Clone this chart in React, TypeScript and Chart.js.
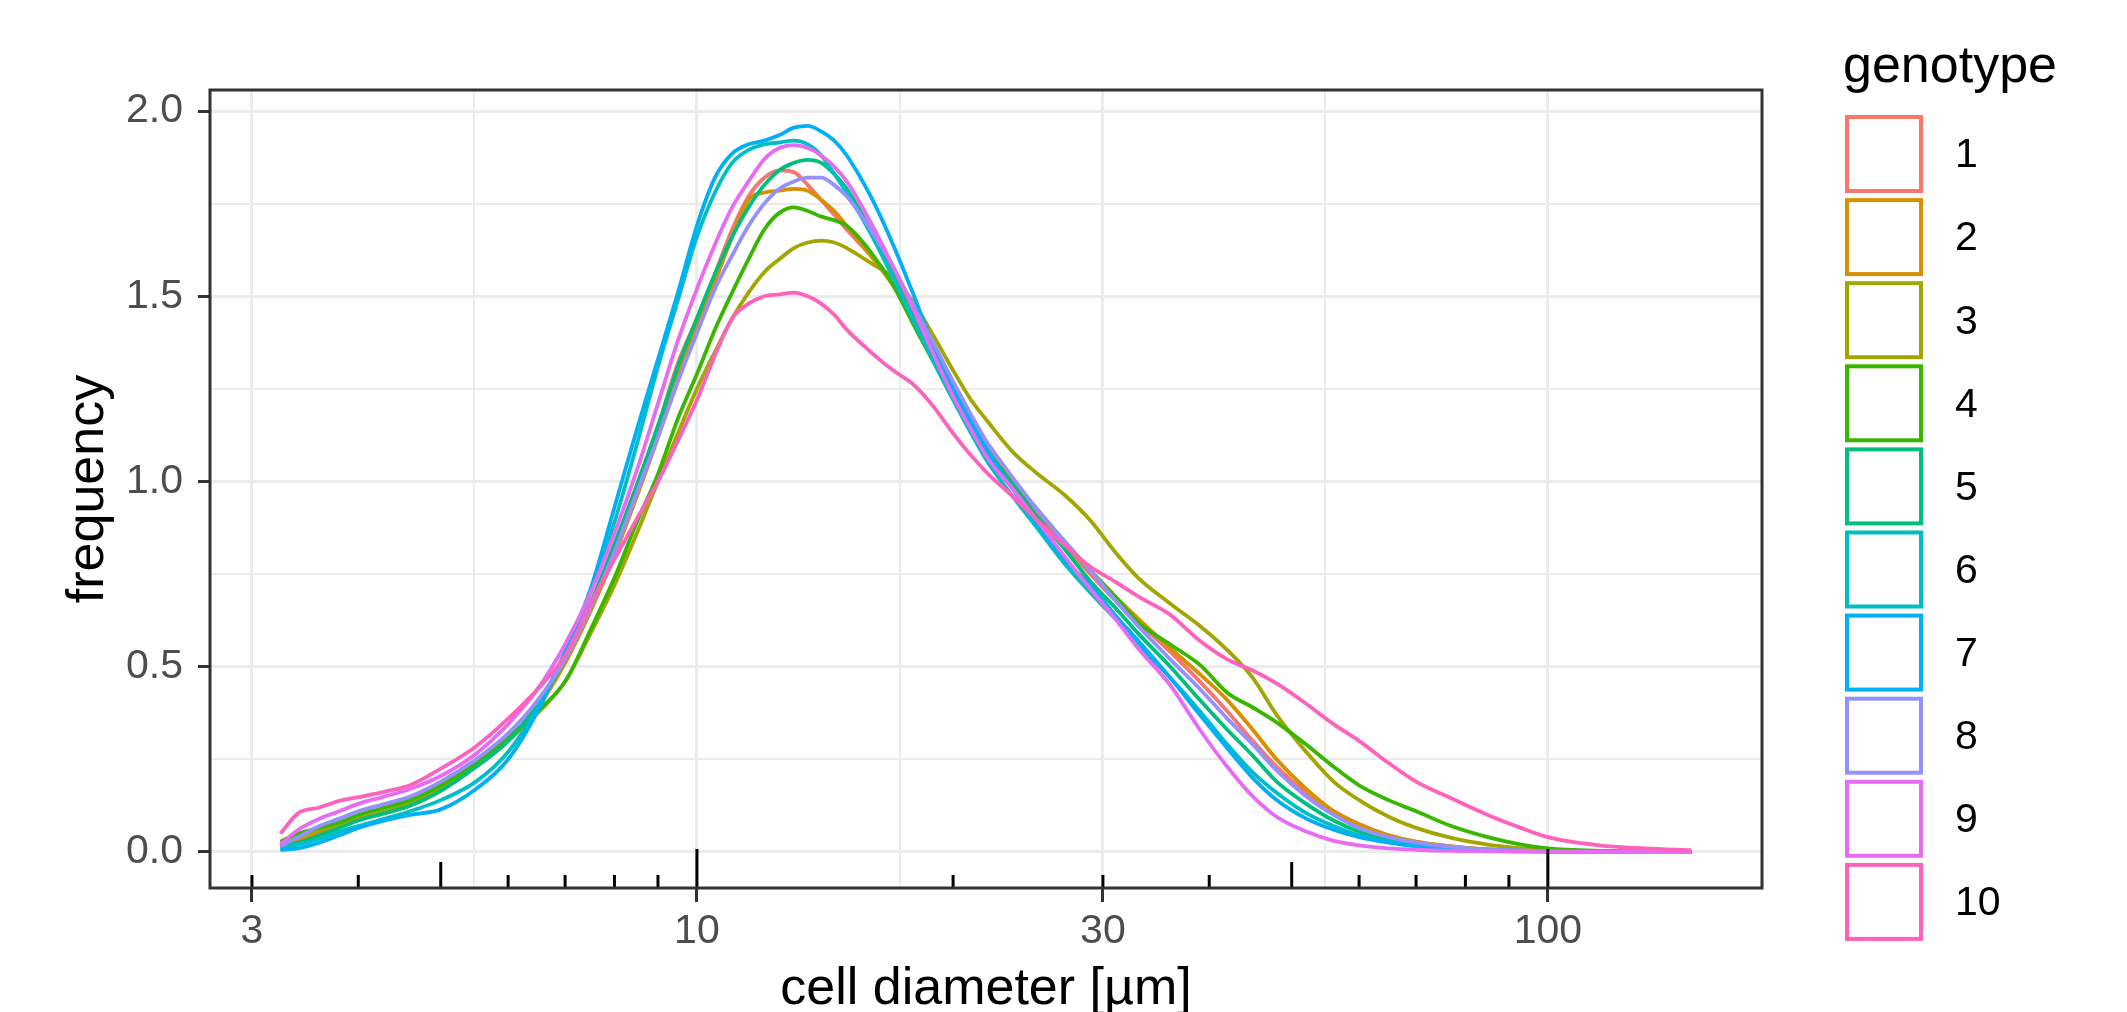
import React, { useEffect, useRef } from 'react';
import { Chart, registerables } from 'chart.js';

Chart.register(...registerables);

const FONT = '"Liberation Sans", Arial, Helvetica, sans-serif';

// cell diameter sample positions [µm]
const diameter = [3.24, 3.4, 3.6, 3.8, 4.0, 4.3, 4.6, 5.0, 5.5, 6.0, 6.5, 7.0, 7.5, 8.0, 8.5, 9.0, 9.5, 10, 10.5, 11, 11.5, 12, 12.5, 13, 13.5, 14, 14.5, 15, 16, 17, 18, 19, 20, 21, 22, 23.5, 25, 27, 29, 31, 33, 36, 39, 42, 45, 48, 52, 56, 60, 65, 70, 77, 85, 93, 100, 115, 130, 147.4];

// density (frequency) per genotype
const genotype1 = [0.018, 0.03, 0.05, 0.07, 0.09, 0.11, 0.13, 0.17, 0.235, 0.30, 0.39, 0.52, 0.67, 0.83, 0.99, 1.15, 1.32, 1.44, 1.56, 1.68, 1.77, 1.82, 1.84, 1.835, 1.80, 1.76, 1.72, 1.68, 1.61, 1.53, 1.43, 1.33, 1.24, 1.16, 1.09, 1.00, 0.92, 0.83, 0.75, 0.68, 0.62, 0.54, 0.46, 0.38, 0.30, 0.23, 0.16, 0.11, 0.075, 0.045, 0.028, 0.015, 0.007, 0.004, 0.002, 0.001, 0, 0];
const genotype2 = [0.015, 0.03, 0.05, 0.07, 0.09, 0.105, 0.125, 0.165, 0.23, 0.30, 0.39, 0.51, 0.65, 0.80, 0.96, 1.12, 1.29, 1.42, 1.54, 1.66, 1.76, 1.78, 1.785, 1.79, 1.785, 1.76, 1.73, 1.69, 1.61, 1.53, 1.44, 1.34, 1.25, 1.17, 1.10, 1.01, 0.93, 0.84, 0.76, 0.69, 0.63, 0.55, 0.48, 0.41, 0.33, 0.25, 0.17, 0.11, 0.075, 0.045, 0.028, 0.015, 0.007, 0.004, 0.002, 0.001, 0, 0];
const genotype3 = [0.02, 0.04, 0.06, 0.075, 0.09, 0.11, 0.13, 0.17, 0.23, 0.30, 0.375, 0.46, 0.59, 0.72, 0.86, 1.00, 1.13, 1.25, 1.35, 1.44, 1.51, 1.565, 1.60, 1.63, 1.645, 1.65, 1.645, 1.63, 1.59, 1.55, 1.48, 1.39, 1.30, 1.22, 1.16, 1.08, 1.025, 0.965, 0.895, 0.81, 0.74, 0.67, 0.61, 0.545, 0.47, 0.37, 0.27, 0.19, 0.14, 0.095, 0.065, 0.038, 0.02, 0.01, 0.005, 0.002, 0.001, 0];
const genotype4 = [0.028, 0.05, 0.065, 0.08, 0.10, 0.12, 0.14, 0.18, 0.24, 0.31, 0.38, 0.46, 0.60, 0.74, 0.89, 1.02, 1.17, 1.29, 1.41, 1.51, 1.60, 1.68, 1.725, 1.74, 1.73, 1.715, 1.705, 1.69, 1.62, 1.53, 1.42, 1.32, 1.23, 1.15, 1.08, 1.00, 0.93, 0.84, 0.76, 0.69, 0.62, 0.56, 0.505, 0.43, 0.39, 0.35, 0.29, 0.23, 0.18, 0.14, 0.11, 0.07, 0.04, 0.02, 0.01, 0.003, 0.001, 0];
const genotype5 = [0.015, 0.025, 0.045, 0.065, 0.085, 0.105, 0.125, 0.165, 0.23, 0.30, 0.40, 0.52, 0.67, 0.83, 0.99, 1.15, 1.31, 1.44, 1.56, 1.66, 1.74, 1.80, 1.84, 1.86, 1.868, 1.86, 1.83, 1.79, 1.68, 1.57, 1.45, 1.34, 1.24, 1.15, 1.07, 0.99, 0.91, 0.82, 0.73, 0.66, 0.59, 0.50, 0.41, 0.33, 0.26, 0.19, 0.13, 0.085, 0.055, 0.033, 0.02, 0.011, 0.006, 0.003, 0.002, 0.001, 0, 0];
const genotype6 = [0.008, 0.02, 0.035, 0.055, 0.07, 0.09, 0.11, 0.14, 0.19, 0.27, 0.39, 0.54, 0.70, 0.89, 1.10, 1.31, 1.49, 1.66, 1.78, 1.86, 1.895, 1.91, 1.915, 1.92, 1.91, 1.88, 1.83, 1.78, 1.67, 1.55, 1.43, 1.32, 1.22, 1.13, 1.05, 0.96, 0.88, 0.78, 0.70, 0.63, 0.56, 0.47, 0.38, 0.29, 0.215, 0.16, 0.105, 0.07, 0.045, 0.028, 0.017, 0.009, 0.005, 0.003, 0.002, 0.001, 0, 0];
const genotype7 = [0.005, 0.01, 0.025, 0.045, 0.065, 0.085, 0.10, 0.115, 0.17, 0.25, 0.38, 0.54, 0.71, 0.93, 1.14, 1.33, 1.51, 1.69, 1.82, 1.885, 1.91, 1.92, 1.935, 1.955, 1.96, 1.945, 1.92, 1.88, 1.77, 1.64, 1.50, 1.36, 1.25, 1.16, 1.08, 0.98, 0.89, 0.79, 0.72, 0.64, 0.57, 0.47, 0.37, 0.28, 0.20, 0.14, 0.09, 0.06, 0.04, 0.025, 0.015, 0.008, 0.004, 0.002, 0.001, 0, 0, 0];
const genotype8 = [0.015, 0.04, 0.07, 0.09, 0.11, 0.13, 0.15, 0.19, 0.25, 0.32, 0.41, 0.52, 0.66, 0.81, 0.97, 1.12, 1.27, 1.40, 1.52, 1.61, 1.69, 1.75, 1.79, 1.81, 1.82, 1.82, 1.80, 1.77, 1.68, 1.58, 1.47, 1.37, 1.27, 1.18, 1.10, 1.01, 0.93, 0.84, 0.76, 0.68, 0.61, 0.52, 0.44, 0.36, 0.29, 0.22, 0.15, 0.10, 0.065, 0.04, 0.025, 0.014, 0.007, 0.004, 0.002, 0.001, 0, 0];
const genotype9 = [0.02, 0.06, 0.09, 0.11, 0.13, 0.15, 0.17, 0.205, 0.265, 0.345, 0.44, 0.56, 0.70, 0.86, 1.03, 1.21, 1.38, 1.52, 1.64, 1.74, 1.81, 1.87, 1.90, 1.908, 1.90, 1.88, 1.85, 1.81, 1.70, 1.58, 1.46, 1.34, 1.23, 1.14, 1.06, 0.98, 0.90, 0.80, 0.71, 0.63, 0.55, 0.45, 0.33, 0.23, 0.15, 0.095, 0.055, 0.03, 0.018, 0.01, 0.006, 0.003, 0.002, 0.001, 0.001, 0, 0, 0];
const genotype10 = [0.05, 0.105, 0.12, 0.138, 0.148, 0.163, 0.18, 0.225, 0.285, 0.36, 0.44, 0.53, 0.67, 0.79, 0.90, 1.00, 1.11, 1.22, 1.34, 1.44, 1.48, 1.50, 1.505, 1.51, 1.50, 1.48, 1.45, 1.41, 1.35, 1.30, 1.26, 1.20, 1.13, 1.07, 1.02, 0.96, 0.90, 0.83, 0.77, 0.73, 0.69, 0.64, 0.57, 0.52, 0.49, 0.455, 0.40, 0.345, 0.30, 0.24, 0.19, 0.145, 0.10, 0.065, 0.04, 0.018, 0.01, 0.005];

const genotypeLabels = ['1', '2', '3', '4', '5', '6', '7', '8', '9', '10'];
const genotypeColors = ['#F8766D', '#D89000', '#A3A500', '#39B600', '#00BF7D', '#00BFC4', '#00B0F6', '#9590FF', '#E76BF3', '#FF62BC'];
const seriesValues = [genotype1, genotype2, genotype3, genotype4, genotype5, genotype6, genotype7, genotype8, genotype9, genotype10];

// axes
const xBreaks = [3, 10, 30, 100];
const xBreakLabels = ['3', '10', '30', '100'];
const xMinorBreaks = [5.4772, 17.3205, 54.7723];
const yBreaks = [0, 0.5, 1, 1.5, 2];
const yBreakLabels = ['0.0', '0.5', '1.0', '1.5', '2.0'];
const yMinorBreaks = [0.25, 0.75, 1.25, 1.75];
const logTickValues = [3, 4, 5, 6, 7, 8, 9, 10, 20, 30, 40, 50, 60, 70, 80, 90, 100];
const logTickLong = [10, 100];
const logTickMid = [5, 50];

const X_MIN = 2.678;
const X_MAX = 178.5;
const Y_MIN = -0.0972;
const Y_MAX = 2.0567;

const near = (a: number, b: number) => Math.abs(a - b) < 1e-6;
const isXMajor = (v: number) => xBreaks.some((b) => near(b, v));
const isYMajor = (v: number) => yBreaks.some((b) => near(b, v));

const decorPlugin = {
  id: 'ggDecor',
  afterDatasetsDraw(chart: any) {
    const { ctx, chartArea: a, scales } = chart;
    const xs = scales.x;
    ctx.save();
    ctx.strokeStyle = '#000000';
    ctx.lineWidth = 3;
    ctx.lineCap = 'butt';
    logTickValues.forEach((v) => {
      const px = xs.getPixelForValue(v);
      const len = logTickLong.some((b) => near(b, v)) ? 39 : logTickMid.some((b) => near(b, v)) ? 26 : 13;
      ctx.beginPath();
      ctx.moveTo(px, a.bottom);
      ctx.lineTo(px, a.bottom - len);
      ctx.stroke();
    });
    ctx.strokeStyle = '#333333';
    ctx.lineWidth = 3;
    ctx.strokeRect(a.left, a.top, a.right - a.left, a.bottom - a.top);
    ctx.restore();
  },
  afterDraw(chart: any) {
    const { ctx } = chart;
    ctx.save();
    ctx.fillStyle = '#000000';
    ctx.font = `52px ${FONT}`;
    ctx.textAlign = 'left';
    ctx.textBaseline = 'alphabetic';
    ctx.fillText('genotype', 1843, 82);
    ctx.font = `41px ${FONT}`;
    ctx.textBaseline = 'middle';
    genotypeLabels.forEach((lab, i) => {
      const top = 115 + 83.1 * i;
      ctx.strokeStyle = genotypeColors[i];
      ctx.lineWidth = 4;
      ctx.strokeRect(1847, top + 2, 74, 74);
      ctx.fillStyle = '#000000';
      ctx.fillText(lab, 1955, top + 41);
    });
    ctx.restore();
  },
};

export default function App() {
  const ref = useRef<HTMLCanvasElement>(null);

  useEffect(() => {
    if (!ref.current) return;
    const datasets = seriesValues.map((vals, i) => ({
      label: genotypeLabels[i],
      data: diameter.map((x, j) => ({ x, y: vals[j] })),
      borderColor: genotypeColors[i],
      backgroundColor: genotypeColors[i],
      borderWidth: 3.8,
      pointRadius: 0,
      fill: false,
      cubicInterpolationMode: 'monotone',
      order: 10 - i,
    }));

    const chart = new Chart(ref.current, {
      type: 'line',
      data: { datasets } as any,
      options: {
        animation: false,
        responsive: false,
        devicePixelRatio: 1,
        layout: { padding: { left: 0, top: 90, right: 365, bottom: 0 } },
        plugins: {
          legend: { display: false },
          tooltip: { enabled: false },
          title: { display: false },
        },
        scales: {
          x: {
            type: 'logarithmic',
            position: 'bottom',
            min: X_MIN,
            max: X_MAX,
            afterBuildTicks: (s: any) => {
              s.ticks = [...xBreaks, ...xMinorBreaks].sort((p, q) => p - q).map((v) => ({ value: v }));
            },
            afterFit: (s: any) => {
              s.height = 124;
            },
            ticks: {
              autoSkip: false,
              maxRotation: 0,
              minRotation: 0,
              padding: 5,
              color: '#4D4D4D',
              font: { family: FONT, size: 41 },
              callback: (v: any) => {
                const idx = xBreaks.findIndex((b) => near(b, Number(v)));
                return idx >= 0 ? xBreakLabels[idx] : '';
              },
            },
            grid: {
              color: '#EBEBEB',
              lineWidth: (c: any) => (c.tick && isXMajor(c.tick.value) ? 3 : 2),
              drawTicks: true,
              tickLength: 14,
              tickWidth: 3,
              tickColor: (c: any) => (c.tick && isXMajor(c.tick.value) ? '#333333' : 'rgba(0,0,0,0)'),
            },
            border: { display: false },
            title: {
              display: true,
              text: 'cell diameter [µm]',
              color: '#000000',
              font: { family: FONT, size: 52, lineHeight: 0.85 },
              padding: { top: 0, bottom: 0 },
            },
          },
          y: {
            type: 'linear',
            position: 'left',
            min: Y_MIN,
            max: Y_MAX,
            afterBuildTicks: (s: any) => {
              s.ticks = [...yBreaks, ...yMinorBreaks].sort((p, q) => p - q).map((v) => ({ value: v }));
            },
            afterFit: (s: any) => {
              s.width = 210;
            },
            ticks: {
              autoSkip: false,
              padding: 15,
              color: '#4D4D4D',
              font: { family: FONT, size: 41 },
              callback: (v: any) => {
                const idx = yBreaks.findIndex((b) => near(b, Number(v)));
                return idx >= 0 ? yBreakLabels[idx] : '';
              },
            },
            grid: {
              color: '#EBEBEB',
              lineWidth: (c: any) => (c.tick && isYMajor(c.tick.value) ? 3 : 2),
              drawTicks: true,
              tickLength: 12,
              tickWidth: 3,
              tickColor: (c: any) => (c.tick && isYMajor(c.tick.value) ? '#333333' : 'rgba(0,0,0,0)'),
            },
            border: { display: false },
            title: {
              display: true,
              text: 'frequency',
              color: '#000000',
              font: { family: FONT, size: 52, lineHeight: 1 },
              padding: { top: 63, bottom: 0 },
            },
          },
        },
      } as any,
      plugins: [decorPlugin],
    });
    return () => chart.destroy();
  }, []);

  return (
    <div style={{ position: 'absolute', left: 0, top: 0, width: 2127, height: 1012, background: '#ffffff' }}>
      <canvas ref={ref} width={2127} height={1012} style={{ display: 'block', width: 2127, height: 1012 }} />
    </div>
  );
}
